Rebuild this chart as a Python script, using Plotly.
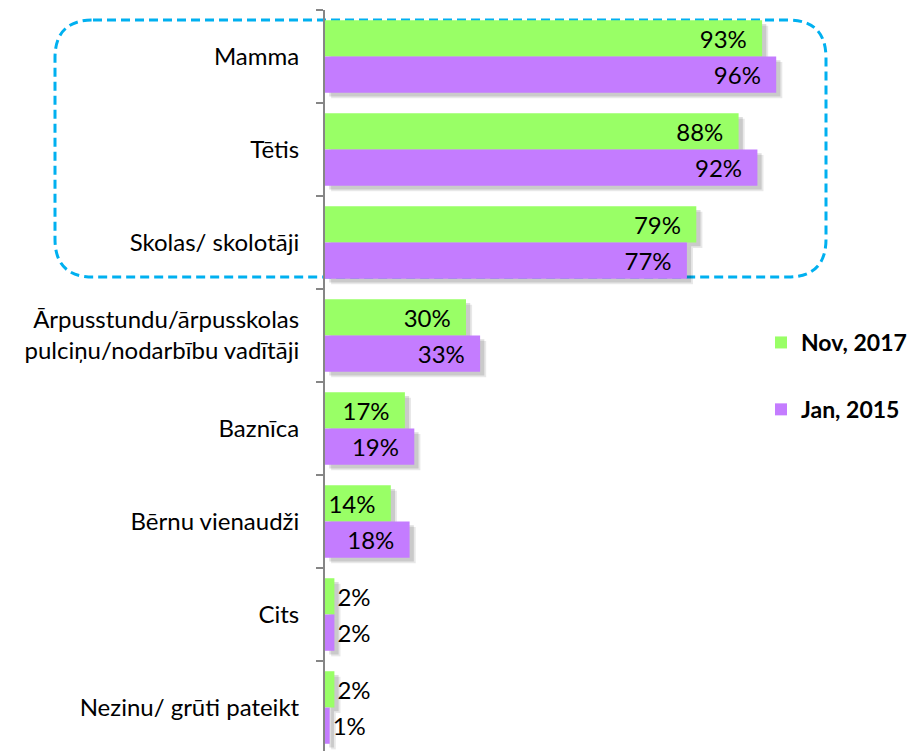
import plotly.graph_objects as go

categories = ["Mamma", "Tētis", "Skolas/ skolotāji",
              "Ārpusstundu/ārpusskolas<br>pulciņu/nodarbību vadītāji",
              "Baznīca", "Bērnu vienaudži", "Cits", "Nezinu/ grūti pateikt"]
nov_2017 = [93, 88, 79, 30, 17, 14, 2, 2]
jan_2015 = [96, 92, 77, 33, 19, 18, 2, 1]
series_names = ["Nov, 2017", "Jan, 2015"]

GREEN = "#99FF66"
PURPLE = "#C47CFF"
FONT = "Lato"
OFF = 8  # default page body margin
W, H = 918, 751
ML, MR, MT, MB = 325 - OFF, 0, 10 - OFF, 0
PW, PH = W - ML - MR, H - MT - MB
PX_PER_PCT = 4.7
CAT_PX = 93
BW = 0.39

def px(x):
    return (x - OFF - ML) / PW

def py(y):
    return 1 - (y - OFF - MT) / PH

fig = go.Figure()

# soft shadows
for vals, off in [(nov_2017, -BW), (jan_2015, 0.0)]:
    for dx, dy, a in [(1.3, 0.06, 0.09), (0.9, 0.04, 0.13)]:
        fig.add_trace(go.Bar(
            y=categories, x=vals, base=dx, orientation="h",
            offset=off + dy, width=BW,
            marker=dict(color=f"rgba(0,0,0,{a})", line=dict(width=0)),
            showlegend=False, hoverinfo="skip"))

for vals, off, color, name in [(nov_2017, -BW, GREEN, series_names[0]),
                               (jan_2015, 0.0, PURPLE, series_names[1])]:
    pos = ["inside" if v >= 10 else "outside" for v in vals]
    texts = [f"{v}%\u00a0\u00a0" if v >= 10 else f"{v}%" for v in vals]
    fig.add_trace(go.Bar(
        y=categories, x=vals, orientation="h", name=name,
        offset=off, width=BW,
        marker=dict(color=color, line=dict(width=0)),
        text=texts, textposition=pos, insidetextanchor="end",
        textangle=0, constraintext="none", cliponaxis=False,
        textfont=dict(family=FONT, size=24, color="#000000"),
        legendgroup=name))

# rounded dashed box
L, R, T, B, r = 55, 826, 20, 277, 38
rx, ry = r / PW, r / PH
path = (f"M {px(L)+rx},{py(T)} L {px(R)-rx},{py(T)} "
        f"Q {px(R)},{py(T)} {px(R)},{py(T)-ry} "
        f"L {px(R)},{py(B)+ry} Q {px(R)},{py(B)} {px(R)-rx},{py(B)} "
        f"L {px(L)+rx},{py(B)} Q {px(L)},{py(B)} {px(L)},{py(B)+ry} "
        f"L {px(L)},{py(T)-ry} Q {px(L)},{py(T)} {px(L)+rx},{py(T)} Z")
fig.add_shape(type="path", path=path, xref="paper", yref="paper",
              line=dict(color="#00B0F0", width=3, dash="9px,5px"),
              layer="below")

fig.update_layout(
    width=W, height=H, margin=dict(l=ML, r=MR, t=MT, b=MB, autoexpand=False),
    paper_bgcolor="white", plot_bgcolor="white",
    barmode="overlay",
    font=dict(family=FONT, size=24, color="#000000"),
    showlegend=True,
    legend=dict(x=px(761), y=py(321), xanchor="left", yanchor="top",
                font=dict(family=FONT, size=23, color="#000000", weight="bold"),
                traceorder="grouped", tracegroupgap=34,
                bgcolor="rgba(0,0,0,0)"),
    xaxis=dict(range=[0, PW / PX_PER_PCT], visible=False, showgrid=False,
               zeroline=False, fixedrange=True, automargin=False),
    yaxis=dict(type="category", categoryorder="array", categoryarray=categories,
               range=[-0.5 + PH / CAT_PX, -0.5], automargin=False,
               showline=True, linecolor="#868686", linewidth=2,
               ticks="outside", ticklen=7, tickwidth=2, tickcolor="#868686",
               tickson="boundaries", showgrid=False, zeroline=False,
               ticklabelstandoff=19,
               tickfont=dict(family=FONT, size=24, color="#000000")),
)

fig.write_html("out.html")
